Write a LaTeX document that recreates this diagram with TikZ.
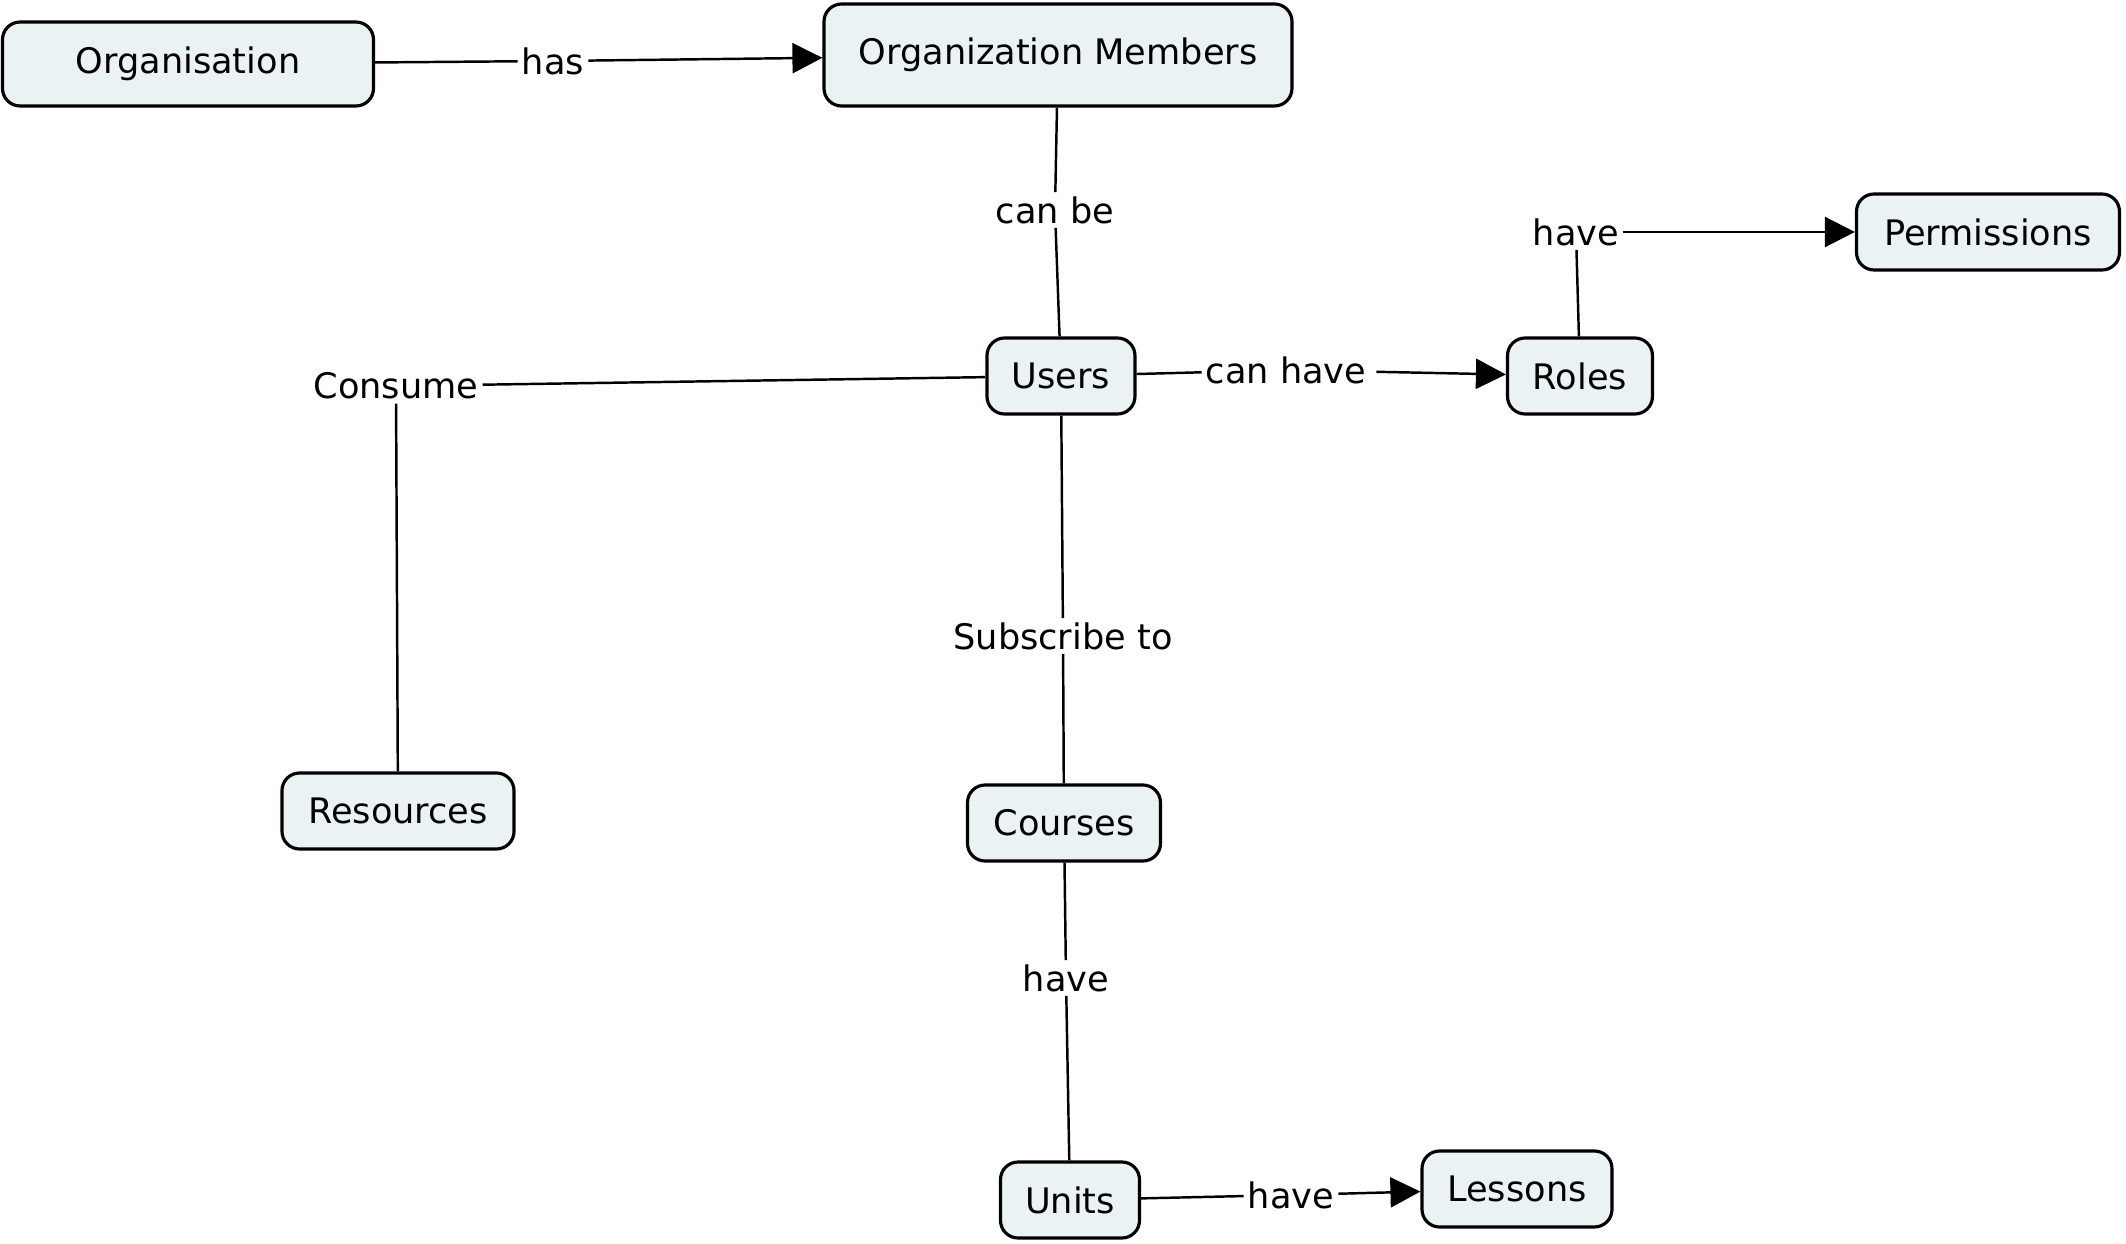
\documentclass[tikz,border=0pt]{standalone}
\usepackage{fontspec}
\setmainfont{DejaVu Sans}
\definecolor{cmfill}{HTML}{EBF2F4}
\usetikzlibrary{arrows.meta,positioning}

\begin{document}
\begin{tikzpicture}[
  font=\fontsize{10}{12}\selectfont,
  concept/.style={draw=black,line width=0.9pt,rounded corners=5pt,fill=cmfill,inner sep=2pt,align=center},
  lnk/.style={fill=white,inner sep=1pt},
  fl/.style={black,line width=0.7pt},
  fa/.style={fl,-{Triangle[length=3mm,width=3mm]}}]
\useasboundingbox (0,0) rectangle (21.26,12.43);
% concepts
\node[concept,minimum width=3.71cm,minimum height=0.84cm] (org) at (1.88,11.79) {Organisation};
\node[concept,minimum width=4.68cm,minimum height=1.02cm] (mem) at (10.58,11.88) {Organization Members};
\node[concept,minimum width=1.48cm,minimum height=0.76cm] (users) at (10.61,8.67) {Users};
\node[concept,minimum width=1.45cm,minimum height=0.76cm] (roles) at (15.80,8.67) {Roles};
\node[concept,minimum width=2.63cm,minimum height=0.76cm] (perm) at (19.88,10.11) {Permissions};
\node[concept,minimum width=2.32cm,minimum height=0.76cm] (res) at (3.98,4.32) {Resources};
\node[concept,minimum width=1.93cm,minimum height=0.76cm] (courses) at (10.64,4.20) {Courses};
\node[concept,minimum width=1.39cm,minimum height=0.76cm] (units) at (10.70,0.43) {Units};
\node[concept,minimum width=1.90cm,minimum height=0.76cm] (lessons) at (15.17,0.54) {Lessons};
% linking phrases
\node[lnk] (lhas) at (5.53,11.82) {has};
\node[lnk] (lcanbe) at (10.55,10.33) {can be};
\node[lnk] (lhaveperm) at (15.76,10.11) {have};
\node[lnk] (lcanhave) at (12.89,8.73) {can have\,};
\node[lnk] (lconsume) at (3.96,8.57) {Consume};
\node[lnk] (lsub) at (10.63,6.07) {Subscribe to};
\node[lnk] (lhaveunits) at (10.66,2.65) {have};
\node[lnk] (lhavelessons) at (12.91,0.48) {have};
% connections
\draw[fl] (org) -- (lhas); \draw[fa] (lhas) -- (mem);
\draw[fl] (mem) -- (lcanbe); \draw[fl] (lcanbe) -- (users);
\draw[fl] (users) -- (lcanhave); \draw[fa] (lcanhave) -- (roles);
\draw[fl] (roles) -- (lhaveperm); \draw[fa] (lhaveperm) -- (perm);
\draw[fl] (users) -- (lconsume); \draw[fl] (lconsume) -- (res);
\draw[fl] (users) -- (lsub); \draw[fl] (lsub) -- (courses);
\draw[fl] (courses) -- (lhaveunits); \draw[fl] (lhaveunits) -- (units);
\draw[fl] (units) -- (lhavelessons); \draw[fa] (lhavelessons) -- (lessons);
\end{tikzpicture}
\end{document}
